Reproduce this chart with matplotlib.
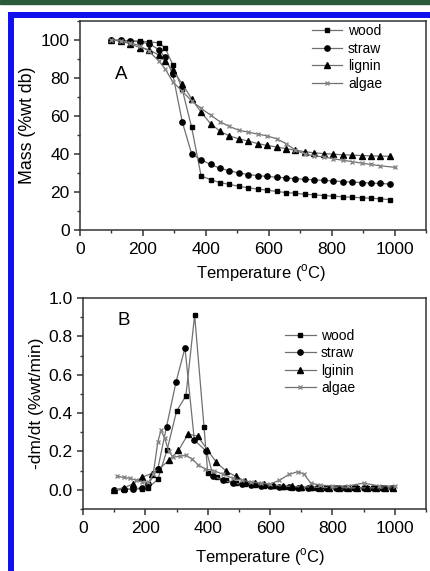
import matplotlib
matplotlib.use('Agg')
import matplotlib.pyplot as plt
from matplotlib.patches import Rectangle
from matplotlib.ticker import MultipleLocator, FormatStrFormatter

plt.rcParams['font.family'] = ['Liberation Sans', 'DejaVu Sans']
plt.rcParams['mathtext.fontset'] = 'custom'
plt.rcParams['mathtext.rm'] = 'Liberation Sans'

# panel A: mass vs temperature
temp_a = [100, 130, 160, 190, 220, 250, 270, 295, 325, 355, 385, 415, 445, 475, 505,
          535, 565, 595, 625, 655, 685, 715, 745, 775, 805, 835, 865, 895, 925, 955, 985]
wood_a = [100, 99.8, 99.6, 99.4, 99, 98.5, 96, 87, 74, 54, 28.5, 26.5, 25, 24, 23,
          22.2, 21.5, 21, 20.3, 19.7, 19.3, 18.8, 18.5, 18.1, 17.8, 17.5, 17.2, 17, 16.7, 16.4, 16]
straw_a = [100, 99.8, 99.5, 99, 98, 95, 91, 82, 57, 40, 37, 34.5, 32.5, 31.2, 30,
           29.2, 28.6, 28.2, 27.8, 27.4, 27, 26.7, 26.4, 26.1, 25.8, 25.5, 25.2, 25, 24.7, 24.5, 24.2]
lignin_a = [100, 99.5, 98, 96, 95, 92, 89, 84, 77, 69, 62, 56, 52, 49.5, 48,
            46.8, 45.5, 44.5, 43.7, 42.8, 42, 41.2, 40.6, 40.2, 39.9, 39.6, 39.4, 39.2, 39, 38.9, 38.8]
temp_algae_a = [100, 130, 160, 190, 220, 250, 270, 295, 325, 355, 385, 415, 445, 475, 505,
                535, 565, 595, 625, 655, 685, 715, 745, 775, 805, 835, 865, 895, 925, 955, 1000]
algae_a = [100, 99.5, 98.5, 97, 94, 89, 85, 78, 73, 68, 64, 60.5, 57, 54.5, 52.5,
           51.5, 50.5, 49.5, 48, 45.5, 42, 40, 39, 38.5, 37.5, 36.7, 36, 35.2, 34.5, 33.8, 33]

# panel B: -dm/dt vs temperature
temp_wood_b = [100, 130, 160, 190, 210, 240, 270, 300, 330, 358, 388, 400, 430, 460, 490,
               520, 550, 580, 610, 640, 670, 700, 730, 760, 790, 820, 850, 880, 910, 940, 970, 990]
wood_b = [0.0, 0.0, 0.005, 0.005, 0.012, 0.055, 0.21, 0.41, 0.49, 0.91, 0.33, 0.09, 0.065, 0.05, 0.035,
          0.03, 0.025, 0.02, 0.02, 0.015, 0.012, 0.012, 0.01, 0.01, 0.01, 0.01, 0.01, 0.008, 0.01, 0.01, 0.01, 0.008]
temp_straw_b = [100, 130, 160, 190, 210, 240, 268, 298, 327, 357, 396, 418, 450, 480, 510,
                540, 570, 600, 630, 660, 690, 720, 750, 780, 810, 840, 870, 900, 930, 960, 990]
straw_b = [0.0, 0.003, 0.005, 0.01, 0.03, 0.11, 0.33, 0.56, 0.74, 0.26, 0.2, 0.07, 0.05, 0.035, 0.03,
           0.025, 0.02, 0.02, 0.015, 0.015, 0.012, 0.012, 0.01, 0.01, 0.01, 0.01, 0.01, 0.01, 0.01, 0.01, 0.01]
temp_lignin_b = [100, 130, 160, 190, 220, 245, 277, 306, 337, 368, 398, 428, 460, 490, 520,
                 550, 580, 610, 640, 670, 700, 730, 760, 790, 820, 850, 880, 910, 940, 970, 995]
lignin_b = [0.0, 0.01, 0.03, 0.066, 0.085, 0.11, 0.156, 0.205, 0.29, 0.28, 0.21, 0.143, 0.096, 0.07, 0.045,
            0.035, 0.03, 0.025, 0.02, 0.018, 0.015, 0.015, 0.012, 0.012, 0.012, 0.01, 0.01, 0.01, 0.01, 0.01, 0.01]
temp_algae_b = [110, 130, 150, 170, 190, 210, 225, 240, 250, 262, 275, 290, 310, 330, 350,
                370, 390, 420, 450, 480, 510, 540, 570, 600, 630, 660, 690, 710, 730, 760,
                800, 850, 900, 950, 1000]
algae_b = [0.07, 0.065, 0.06, 0.05, 0.04, 0.04, 0.08, 0.25, 0.31, 0.27, 0.2, 0.17, 0.175, 0.18, 0.16,
           0.13, 0.11, 0.1, 0.08, 0.06, 0.05, 0.04, 0.035, 0.03, 0.05, 0.08, 0.095, 0.08, 0.035, 0.025,
           0.02, 0.02, 0.035, 0.02, 0.02]

LINE = '#707070'
SPINE = '#333333'

fig = plt.figure(figsize=(4.3, 5.71), dpi=100)

# frame decorations (green bar + blue border)
fig.patches.append(Rectangle((0, 1 - 4 / 571), 1, 4 / 571, transform=fig.transFigure,
                             color='#2b5a3a', zorder=-5))
fig.patches.append(Rectangle((11 / 430, -0.05), 1.2, 1 - 15 / 571 + 0.05, transform=fig.transFigure,
                             fill=False, ec='#1010ee', lw=4.3, zorder=-5))

ax_a = fig.add_axes([80 / 430, 1 - 230 / 571, 346 / 430, 209 / 571])
ax_b = fig.add_axes([83 / 430, 1 - 509 / 571, 343 / 430, 211 / 571])


def draw_series(ax, x, y, marker, label, ms=3.8, mc='black'):
    ax.plot(x, y, color=LINE, lw=0.9, marker=marker, ms=ms, mfc=mc, mec=mc, label=label)


draw_series(ax_a, temp_a, wood_a, 's', 'wood', ms=3.5)
draw_series(ax_a, temp_a, straw_a, 'o', 'straw')
draw_series(ax_a, temp_a, lignin_a, '^', 'lignin')
draw_series(ax_a, temp_algae_a, algae_a, 'x', 'algae', ms=2.5, mc='#888888')

draw_series(ax_b, temp_wood_b, wood_b, 's', 'wood', ms=3.5)
draw_series(ax_b, temp_straw_b, straw_b, 'o', 'straw')
draw_series(ax_b, temp_lignin_b, lignin_b, '^', 'lginin')
draw_series(ax_b, temp_algae_b, algae_b, 'x', 'algae', ms=2.5, mc='#888888')

for ax in (ax_a, ax_b):
    ax.set_xlim(0, 1100)
    ax.xaxis.set_major_locator(MultipleLocator(200))
    ax.xaxis.set_minor_locator(MultipleLocator(100))
    for s in ax.spines.values():
        s.set_color(SPINE)
        s.set_linewidth(1.1)
    ax.tick_params(which='major', direction='out', length=4, width=1.1, color=SPINE,
                   labelsize=12.5, pad=3.5, top=False, right=False)
    ax.tick_params(axis='x', which='major', pad=4.5)
    ax.tick_params(which='minor', direction='out', length=2.5, width=1.0, color=SPINE,
                   top=False, right=False)
    ax.set_xlabel(r'Temperature ($^\mathregular{o}$C)', fontsize=11.9, labelpad=4)

ax_a.xaxis.set_label_coords(0.523, -0.155)
ax_b.xaxis.set_label_coords(0.516, -0.178)

ax_a.set_ylim(0, 110)
ax_a.yaxis.set_major_locator(MultipleLocator(20))
ax_a.yaxis.set_minor_locator(MultipleLocator(10))
ax_a.set_ylabel('Mass (%wt db)', fontsize=12.8, labelpad=3)
ax_a.text(130, 82, 'A', fontsize=13.5, ha='center', va='center')

ax_b.set_ylim(-0.1, 1.0)
ax_b.yaxis.set_major_locator(MultipleLocator(0.2))
ax_b.yaxis.set_minor_locator(MultipleLocator(0.1))
ax_b.yaxis.set_major_formatter(FormatStrFormatter('%.1f'))
ax_b.set_ylabel('-dm/dt (%wt/min)', fontsize=12.5, labelpad=3)
ax_b.text(131, 0.885, 'B', fontsize=13.5, ha='center', va='center')

leg_kw = dict(frameon=False, fontsize=10, handlelength=2.2, handletextpad=0.4,
              labelspacing=0.25, borderpad=0, borderaxespad=0, loc='upper left')
ax_a.legend(bbox_to_anchor=(0.67, 0.985), **leg_kw)
ax_b.legend(bbox_to_anchor=(0.589, 0.855), **leg_kw)

fig.savefig('out.png', dpi=100)
